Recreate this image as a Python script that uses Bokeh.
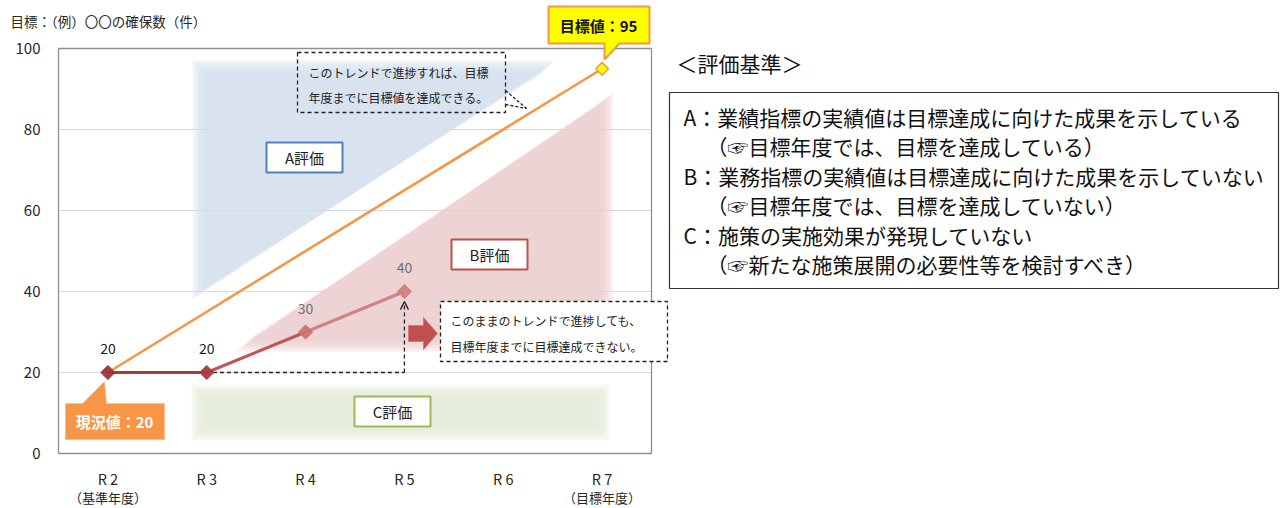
import numpy as np
from bokeh.plotting import figure
from bokeh.models import Range1d, FixedTicker, Arrow, OpenHead
from bokeh.embed import file_html
from bokeh.resources import INLINE
from bokeh.core.properties import value

# ---------------- data ----------------
years = ["R 2", "R 3", "R 4", "R 5", "R 6", "R 7"]
year_notes = ["（基準年度）", "", "", "", "", "（目標年度）"]
actual_idx = [0, 1, 2, 3]
actual_vals = [20, 20, 30, 40]
target_idx = [0, 5]
target_vals = [20, 95]
y_ticks = [0, 20, 40, 60, 80, 100]
title_text = "目標：（例）〇〇の確保数（件）"
current_label = "現況値：20"
target_label = "目標値：95"
note_up = ["このトレンドで進捗すれば、目標", "年度までに目標値を達成できる。"]
note_down = ["このままのトレンドで進捗しても、", "目標年度までに目標達成できない。"]
zone_names = ["A評価", "B評価", "C評価"]
criteria_title = "＜評価基準＞"
criteria_lines = [
    "A：業績指標の実績値は目標達成に向けた成果を示している",
    "（☞目標年度では、目標を達成している）",
    "B：業務指標の実績値は目標達成に向けた成果を示していない",
    "（☞目標年度では、目標を達成していない）",
    "C：施策の実施効果が発現していない",
    "（☞新たな施策展開の必要性等を検討すべき）",
]

FONT = "Noto Sans CJK JP"

# ---------------- layout helpers (canvas pixel -> data) ----------------
W, H = 1284, 507
X_LEFT, X_RIGHT = 58, 651      # chart area edges (px)
Y_TOP, Y_BOTTOM = 48, 453
UX = (X_RIGHT - X_LEFT) / 6.0
UY = (Y_BOTTOM - Y_TOP) / 100.0


def dx(px):
    return (px - X_LEFT) / UX - 0.5


def dy(py):
    return (Y_BOTTOM - py) / UY


p = figure(width=W, height=H, output_backend="svg", toolbar_location=None,
           x_range=Range1d(dx(0), dx(W)), y_range=Range1d(dy(H), dy(0)),
           min_border=0)
p.background_fill_color = "white"
p.border_fill_color = "white"
p.outline_line_color = None

# axes fixed inside the canvas
p.xaxis.fixed_location = 0
p.yaxis.fixed_location = -0.5
p.xaxis.ticker = FixedTicker(ticks=list(range(len(years))))
p.xaxis.major_label_overrides = {i: years[i] for i in range(len(years))}
p.yaxis.ticker = FixedTicker(ticks=y_ticks)
for ax in (p.xaxis, p.yaxis):
    ax.axis_line_color = None
    ax.major_tick_line_color = None
    ax.minor_tick_line_color = None
    ax.major_label_text_font = FONT
    ax.major_label_text_color = "#262626"
p.xaxis.major_label_text_font_size = "14.5px"
p.yaxis.major_label_text_font_size = "15px"
p.xaxis.major_label_standoff = 8
p.yaxis.major_label_standoff = 12
p.xgrid.grid_line_color = None
p.ygrid.grid_line_color = None

# year notes under tick labels
note_i = [i for i in range(len(years)) if year_notes[i]]
p.text(note_i, [0] * len(note_i), text=[year_notes[i] for i in note_i], y_offset=44,
       text_align="center", text_baseline="middle", text_font=value(FONT),
       text_font_size="13px", text_color="#262626")

# gridlines
grid_y = y_ticks[1:-1]
p.segment([-0.5] * len(grid_y), grid_y, [5.5] * len(grid_y), grid_y,
          line_color="#d9d9d9", line_width=1)


# soft background zones
def soft(xs_px, ys_px, color):
    cx = (max(xs_px) + min(xs_px)) / 2.0
    cy = (max(ys_px) + min(ys_px)) / 2.0
    hw = (max(xs_px) - min(xs_px)) / 2.0
    hh = (max(ys_px) - min(ys_px)) / 2.0
    for d in [6, 3, 0, -3, -6]:
        fx = 1 + d / hw
        fy = 1 + d / hh
        xs = [dx(cx + (x - cx) * fx) for x in xs_px]
        ys = [dy(cy + (y - cy) * fy) for y in ys_px]
        p.patch(xs, ys, fill_color=color, fill_alpha=0.34, line_color=None)


soft([198, 549, 198], [66, 66, 293], "#d4dfee")
soft([242, 606, 606], [345, 99, 345], "#ebcccd")
soft([197, 603, 603, 197], [390, 390, 434, 434], "#e6ebd9")

# plot border
p.quad(left=-0.5, right=5.5, bottom=0, top=100, fill_color=None,
       line_color="#8f8f8f", line_width=1.3)

# zone label boxes
zone_x = [dx(304), dx(489), dx(392)]
zone_y = [dy(157), dy(254), dy(411)]
zone_col = ["#4f81bd", "#c0504d", "#9bbb59"]
p.rect(zone_x, zone_y, width=76, height=30, width_units="screen", height_units="screen",
       fill_color="white", line_color=zone_col, line_width=2)
p.text(zone_x, zone_y, text=zone_names, text_align="center", text_baseline="middle",
       text_font=value(FONT), text_font_size="15px", text_color="#222222")

# dashed guide (R2 -> R5 at 20, then up to R5 value)
p.line([actual_idx[0], actual_idx[-1]], [actual_vals[0], actual_vals[0]],
       line_color="#222222", line_dash="4 3", line_width=1.3)
p.add_layout(Arrow(x_start=actual_idx[-1], y_start=actual_vals[0], x_end=actual_idx[-1],
                   y_end=actual_vals[-1] - 2.5,
                   end=OpenHead(size=8, line_width=1.3, line_color="#222222"),
                   line_color="#222222", line_dash="4 3", line_width=1.3))

# target line
p.line(target_idx, target_vals, line_color="#f79646", line_width=2.6)

# actual line
seg_col = ["#a83b3b", "#bf5656", "#d38181"]
p.segment(actual_idx[:-1], actual_vals[:-1], actual_idx[1:], actual_vals[1:],
          line_color=seg_col, line_width=3)
mk_col = ["#9c3636", "#a83c3c", "#cc7272", "#d28181"]
p.scatter(actual_idx, actual_vals, marker="square", angle=np.pi / 4, size=10,
          fill_color=mk_col, line_color=mk_col, fill_alpha=0.95)
p.text(actual_idx, actual_vals, text=[str(v) for v in actual_vals], y_offset=-24,
       text_align="center", text_baseline="middle", text_font=value(FONT),
       text_font_size="14px", text_color=["#1a1a1a", "#1a1a1a", "#707070", "#707070"])

# red block arrow
arr_x = [408, 423, 423, 437, 423, 423, 408]
arr_y = [325, 325, 317, 333, 349, 341, 341]
p.patch([dx(v) for v in arr_x], [dy(v) for v in arr_y], fill_color="#c0504d",
        line_color="#d27a78", line_width=1)

# callout 1 (upper)
p.quad(left=dx(297), right=dx(505), top=dy(52), bottom=dy(112), fill_color=None,
       line_color="#222222", line_dash="4 3", line_width=1.3)
p.segment([dx(505), dx(505)], [dy(90), dy(104)], [dx(526), dx(526)], [dy(108), dy(108)],
          line_color="#222222", line_dash="3 2", line_width=1.3)
p.text([dx(308)] * 2, [dy(72), dy(97)], text=note_up, text_font=value(FONT),
       text_font_size="12px", text_color="#222222", text_baseline="middle",
       text_align="left")

# callout 2 (lower)
p.quad(left=dx(440), right=dx(667), top=dy(301), bottom=dy(361), fill_color="white",
       line_color="#222222", line_dash="4 3", line_width=1.3)
p.text([dx(450)] * 2, [dy(320), dy(346)], text=note_down, text_font=value(FONT),
       text_font_size="12px", text_color="#222222", text_baseline="middle",
       text_align="left")

# current value callout
cur_x = [65, 82, 104, 106, 164, 164, 65]
cur_y = [403, 403, 381, 403, 403, 439, 439]
p.patch([dx(v) for v in cur_x], [dy(v) for v in cur_y], fill_color="#f79646",
        line_color="#fac090", line_width=1)
p.text([dx(114)], [dy(421)], text=[current_label], text_font=value(FONT),
       text_font_size="15px", text_font_style="bold", text_color="white",
       text_align="center", text_baseline="middle")

# target value callout (yellow)
tg_x = [548, 649, 649, 619, 604, 604, 548]
tg_y = [6, 6, 43, 43, 59, 43, 43]
p.patch([dx(v) for v in tg_x], [dy(v) for v in tg_y], fill_color="#ffff00",
        line_color="#f79646", line_width=2)
p.text([dx(598)], [dy(25)], text=[target_label], text_font=value(FONT),
       text_font_size="15px", text_font_style="bold", text_color="#111111",
       text_align="center", text_baseline="middle")
p.scatter([target_idx[-1]], [target_vals[-1]], marker="square", angle=np.pi / 4, size=9,
          fill_color="#ffff00", line_color="#f79646", line_width=1.5)

# title
p.text([dx(10)], [dy(20)], text=[title_text], text_font=value(FONT), text_font_size="13.5px",
       text_color="#262626", text_align="left", text_baseline="middle")

# ---------------- criteria panel ----------------
p.text([dx(676)], [dy(62)], text=[criteria_title], text_font=value(FONT),
       text_font_size="21px", text_color="#111111", text_align="left",
       text_baseline="middle")
p.quad(left=dx(669), right=dx(1278), top=dy(92), bottom=dy(288), fill_color=None,
       line_color="#333333", line_width=1.2)
row_y = [116, 145, 175, 204, 234, 263]
row_x = [683 if i % 2 == 0 else 706 for i in range(len(criteria_lines))]
p.text([dx(v) for v in row_x], [dy(v) for v in row_y], text=criteria_lines,
       text_font=value(FONT), text_font_size="21px", text_color="#111111",
       text_align="left", text_baseline="middle")

open("out.html", "w").write(file_html(p, INLINE))
